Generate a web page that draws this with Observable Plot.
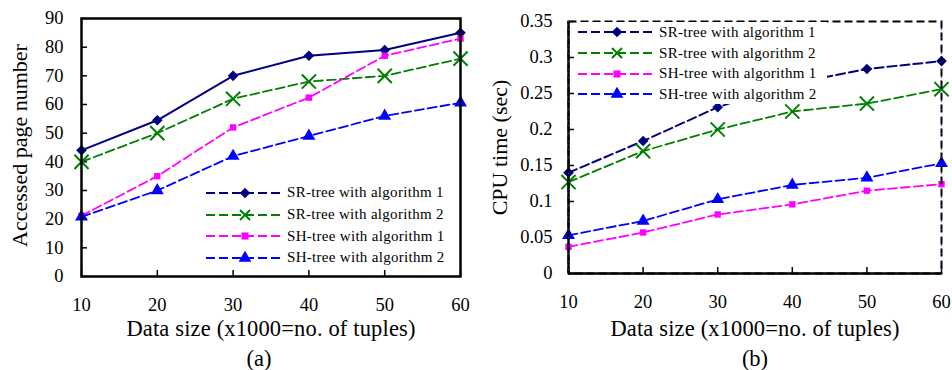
<!DOCTYPE html>
<html><head><meta charset="utf-8">
<script src="https://cdn.jsdelivr.net/npm/d3@7"></script>
<script src="https://cdn.jsdelivr.net/npm/@observablehq/plot@0.6"></script>
<style>
body{margin:0;background:#fff;}
#wrap{position:relative;width:952px;height:370px;overflow:hidden;font-family:"Liberation Serif","Times New Roman",serif;}
.panel{position:absolute;top:0;}
.legend{position:absolute;}
.row{display:flex;align-items:center;white-space:nowrap;}
.row span{font-size:15px;letter-spacing:0.3px;margin-left:3px;color:#000;}
</style></head><body><div id="wrap"></div>
<script>
// ---- data ----
const dataSizes = [10, 20, 30, 40, 50, 60];
const seriesNames = ["SR-tree with algorithm 1", "SR-tree with algorithm 2", "SH-tree with algorithm 1", "SH-tree with algorithm 2"];
// (a) accessed page number
const pagesSR1 = [44, 54.5, 70, 77, 79, 85];
const pagesSR2 = [40, 50, 62, 68, 70, 76];
const pagesSH1 = [21.2, 35, 52, 62.4, 77, 83];
const pagesSH2 = [20.8, 30, 42, 49, 56, 60.6];
// (b) CPU time (sec)
const cpuSR1 = [0.140, 0.184, 0.231, 0.264, 0.284, 0.295];
const cpuSR2 = [0.127, 0.170, 0.200, 0.225, 0.236, 0.256];
const cpuSH1 = [0.037, 0.057, 0.082, 0.096, 0.115, 0.124];
const cpuSH2 = [0.053, 0.073, 0.103, 0.123, 0.133, 0.153];
// ticks and labels
const xTicks = [10, 20, 30, 40, 50, 60];
const yTicksA = [0, 10, 20, 30, 40, 50, 60, 70, 80, 90];
const yTicksB = [0, 0.05, 0.1, 0.15, 0.2, 0.25, 0.3, 0.35];
const xTitle = "Data size (x1000=no. of tuples)";
const yTitleA = "Accessed page number";
const yTitleB = "CPU time (sec)";
const panelA = "(a)";
const panelB = "(b)";

// ---- styles ----
const colors = ["#000080", "#008000", "#ff00ff", "#0000ff"];
const symbols = ["diamond2", "times", "square", "triangle"];
const font = "Liberation Serif, Times New Roman, serif";

function rowsOf(arrs) {
  const rows = [];
  arrs.forEach((vals, i) => vals.forEach((v, j) => rows.push({x: dataSizes[j], y: v, s: seriesNames[i], i})));
  return rows;
}

function seriesMarks(rows, solidFirst) {
  const marks = [];
  seriesNames.forEach((name, i) => {
    const d = rows.filter(r => r.i === i);
    marks.push(Plot.line(d, {x: "x", y: "y", stroke: colors[i], strokeWidth: i === 0 ? 2 : 1.8,
      strokeDasharray: (i === 0 && solidFirst) ? null : "9,4"}));
    if (symbols[i] === "times") {
      marks.push(Plot.dot(d, {x: "x", y: "y", symbol: "times", r: 6.5, stroke: colors[i], strokeWidth: 2}));
    } else {
      marks.push(Plot.dot(d, {x: "x", y: "y", symbol: symbols[i], r: symbols[i] === "square" ? 3.6 : 4.8, fill: colors[i], stroke: "none"}));
    }
  });
  return marks;
}

function commonAxes(yTicks, yPad, yFmt) {
  return [
    Plot.axisX({ticks: xTicks, tickSize: -6, tickPadding: 27.5, fontSize: 18.5, label: null, strokeWidth: 1.5}),
    Plot.axisY({ticks: yTicks, tickSize: -6, tickPadding: yPad, fontSize: 18.5, label: null, tickFormat: yFmt, strokeWidth: 1.5})
  ];
}

// ---- panel (a) ----
const rowsA = rowsOf([pagesSR1, pagesSR2, pagesSH1, pagesSH2]);
const plotA = Plot.plot({
  width: 476, height: 370,
  marginLeft: 81, marginRight: 16, marginTop: 18, marginBottom: 94,
  style: {fontFamily: font, background: "white", color: "black"},
  x: {domain: [10, 60]},
  y: {domain: [0, 90]},
  marks: [
    ...commonAxes(yTicksA, 24, d => String(d)),
    ...seriesMarks(rowsA, true),
    Plot.frame({stroke: "black", strokeWidth: 2.5}),
    Plot.text([xTitle], {frameAnchor: "bottom", dy: 51.8, fontSize: 22.5, lineAnchor: "middle"}),
    Plot.text([panelA], {frameAnchor: "bottom", dy: 82, dx: -12, fontSize: 22.5, lineAnchor: "middle"}),
    Plot.text([yTitleA], {frameAnchor: "left", textAnchor: "middle", dx: -62, dy: -2, rotate: -90, fontSize: 22, lineAnchor: "middle"})
  ]
});

// ---- panel (b) ----
const rowsB = rowsOf([cpuSR1, cpuSR2, cpuSH1, cpuSH2]);
const plotB = Plot.plot({
  width: 476, height: 370,
  marginLeft: 92, marginRight: 11, marginTop: 21, marginBottom: 97,
  style: {fontFamily: font, background: "white", color: "black"},
  x: {domain: [10, 60]},
  y: {domain: [0, 0.35]},
  marks: [
    ...commonAxes(yTicksB, 22, d => String(d)),
    ...seriesMarks(rowsB, false),
    Plot.frame({stroke: "black", strokeWidth: 2, strokeDasharray: "8,4"}),
    Plot.ruleX([10], {stroke: "black", strokeWidth: 2.5}),
    Plot.ruleY([0], {stroke: "black", strokeWidth: 2.5}),
    Plot.ruleX([10, 60], {stroke: "#3030ff", strokeWidth: 1.2, strokeDasharray: "1,7"}),
    Plot.text([xTitle], {frameAnchor: "bottom", dy: 54.8, fontSize: 22.5, lineAnchor: "middle"}),
    Plot.text([panelB], {frameAnchor: "bottom", dy: 85, fontSize: 22.5, lineAnchor: "middle"}),
    Plot.text([yTitleB], {frameAnchor: "left", textAnchor: "middle", dx: -69, rotate: -90, fontSize: 22, lineAnchor: "middle"})
  ]
});

// widen the x titles slightly to match the reference's letter spacing
[plotA, plotB].forEach(p => d3.select(p).selectAll("text")
  .filter(function() { return this.textContent === xTitle; })
  .style("letter-spacing", "0.15px"));

const wrap = document.getElementById("wrap");
function place(el, left) { el.classList.add("panel"); el.style.left = left + "px"; wrap.appendChild(el); }
place(plotA, 0);
place(plotB, 476);

// ---- legends ----
function legend(left, top, rowH, bg, w, h) {
  const div = document.createElement("div");
  div.className = "legend";
  div.style.left = left + "px"; div.style.top = top + "px";
  if (bg) { div.style.background = "#fff"; div.style.width = w + "px"; div.style.height = h + "px"; }
  seriesNames.forEach((name, i) => {
    const row = document.createElement("div");
    row.className = "row"; row.style.height = rowH + "px";
    const sw = 78, cy = 7;
    let marker;
    if (symbols[i] === "times") {
      marker = `<path d="M${sw/2-5},${cy-5}L${sw/2+5},${cy+5}M${sw/2-5},${cy+5}L${sw/2+5},${cy-5}" stroke="${colors[i]}" stroke-width="2"/>`;
    } else {
      const sym = {diamond2: d3.symbolDiamond2, square: d3.symbolSquare, triangle: d3.symbolTriangle}[symbols[i]];
      const size = symbols[i] === "square" ? 50 : 70;
      marker = `<path transform="translate(${sw/2},${cy})" d="${d3.symbol(sym, size)()}" fill="${colors[i]}"/>`;
    }
    row.innerHTML = `<svg width="${sw}" height="14"><line x1="0" x2="${sw}" y1="${cy}" y2="${cy}" stroke="${colors[i]}" stroke-width="1.8" stroke-dasharray="9,4"/>${marker}</svg><span>${name}</span>`;
    div.appendChild(row);
  });
  wrap.appendChild(div);
}
legend(206, 182, 21.7, false);
legend(578, 22, 20.7, true, 249, 82);
</script>
</body></html>
